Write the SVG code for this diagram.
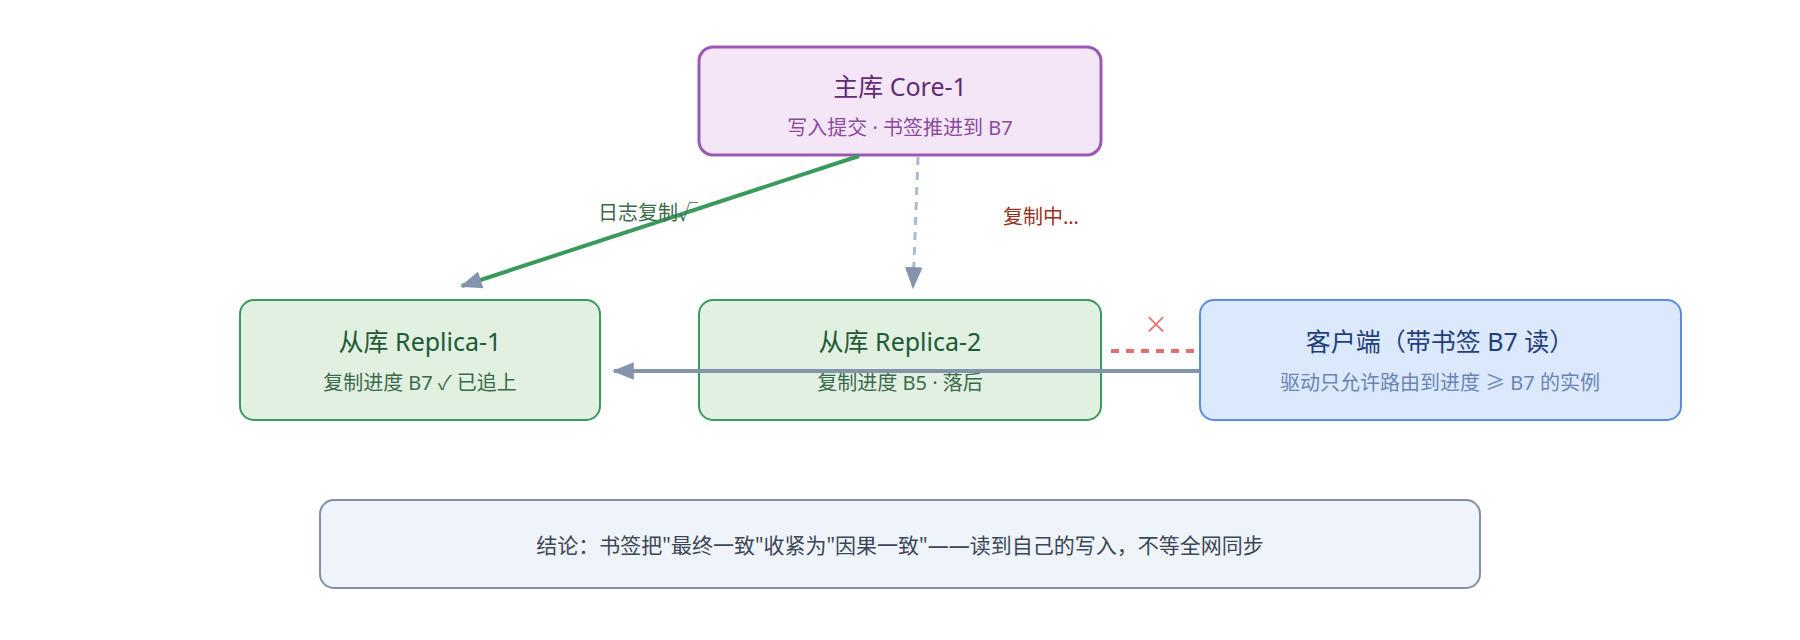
<svg xmlns="http://www.w3.org/2000/svg" width="1800" height="640" viewBox="0 0 1800 640">
<style>
text{font-family:"Noto Sans","Noto Sans CJK SC",sans-serif;text-anchor:middle}
.t{font-size:25px}.s{font-size:20px}
.g rect{fill:#e1f0e1;stroke:#3a9a5c;stroke-width:2}
.g .t{fill:#1e5a34}.g .s{fill:#3c6b4c}
</style>
<defs>
<marker id="a" viewBox="0 0 10 10" refX="9" refY="5" markerWidth="22" markerHeight="22" markerUnits="userSpaceOnUse" orient="auto"><path d="M0,1L10,5L0,9z" fill="#8494ad"/></marker>
</defs>
<rect width="1800" height="640" fill="#ffffff"/>
<g id="core1"><rect x="699" y="47" width="402" height="108" rx="14" fill="#f4e6f6" stroke="#9b59b6" stroke-width="3"/>
<text class="t" x="900" y="96" fill="#5e2d74">主库 Core-1</text><text class="s" x="900" y="135" fill="#8a4aa0">写入提交 · 书签推进到 B7</text></g>
<g id="replica1" class="g"><rect x="240" y="300" width="360" height="120" rx="14"/>
<text class="t" x="420" y="351">从库 Replica-1</text><text class="s" x="420" y="390">复制进度 B7 ✓ 已追上</text></g>
<g id="replica2" class="g"><rect x="699" y="300" width="402" height="120" rx="14"/>
<text class="t" x="900" y="351">从库 Replica-2</text><text class="s" x="900" y="390">复制进度 B5 · 落后</text></g>
<g id="client"><rect x="1200" y="300" width="481" height="120" rx="14" fill="#dce8fc" stroke="#5b8ddf" stroke-width="2"/>
<text class="t" x="1440" y="351" fill="#1f3f7a">客户端（带书签 B7 读）</text><text class="s" x="1440" y="390" fill="#6a84b4">驱动只允许路由到进度 ≥ B7 的实例</text></g>
<g id="conclusion"><rect x="320" y="500" width="1160" height="88" rx="14" fill="#eff4fb" stroke="#8090a8" stroke-width="2"/>
<text x="900" y="553" font-size="21" fill="#3c4656">结论：书签把"最终一致"收紧为"因果一致"——读到自己的写入，不等全网同步</text></g>
<g id="connectors">
<line x1="859" y1="156" x2="462" y2="286" stroke="#3a9a5c" stroke-width="4" marker-end="url(#a)"/>
<line x1="918" y1="157" x2="913" y2="287" stroke="#a8bcd0" stroke-width="3" stroke-dasharray="8,7" marker-end="url(#a)"/>
<line x1="1111" y1="351" x2="1200" y2="351" stroke="#e07070" stroke-width="4" stroke-dasharray="8,7"/>
<line x1="1200" y1="371" x2="614" y2="371" stroke="#8494ad" stroke-width="4" marker-end="url(#a)"/>
<text x="1156" y="333" font-size="24" fill="#e07070" style="font-family:'Noto Sans CJK SC',sans-serif">×</text>
<text x="648" y="220" font-size="20" fill="#3c6b4c">日志复制√</text>
<text x="1041" y="224" font-size="20" fill="#9a3224">复制中…</text>
</g>
</svg>
